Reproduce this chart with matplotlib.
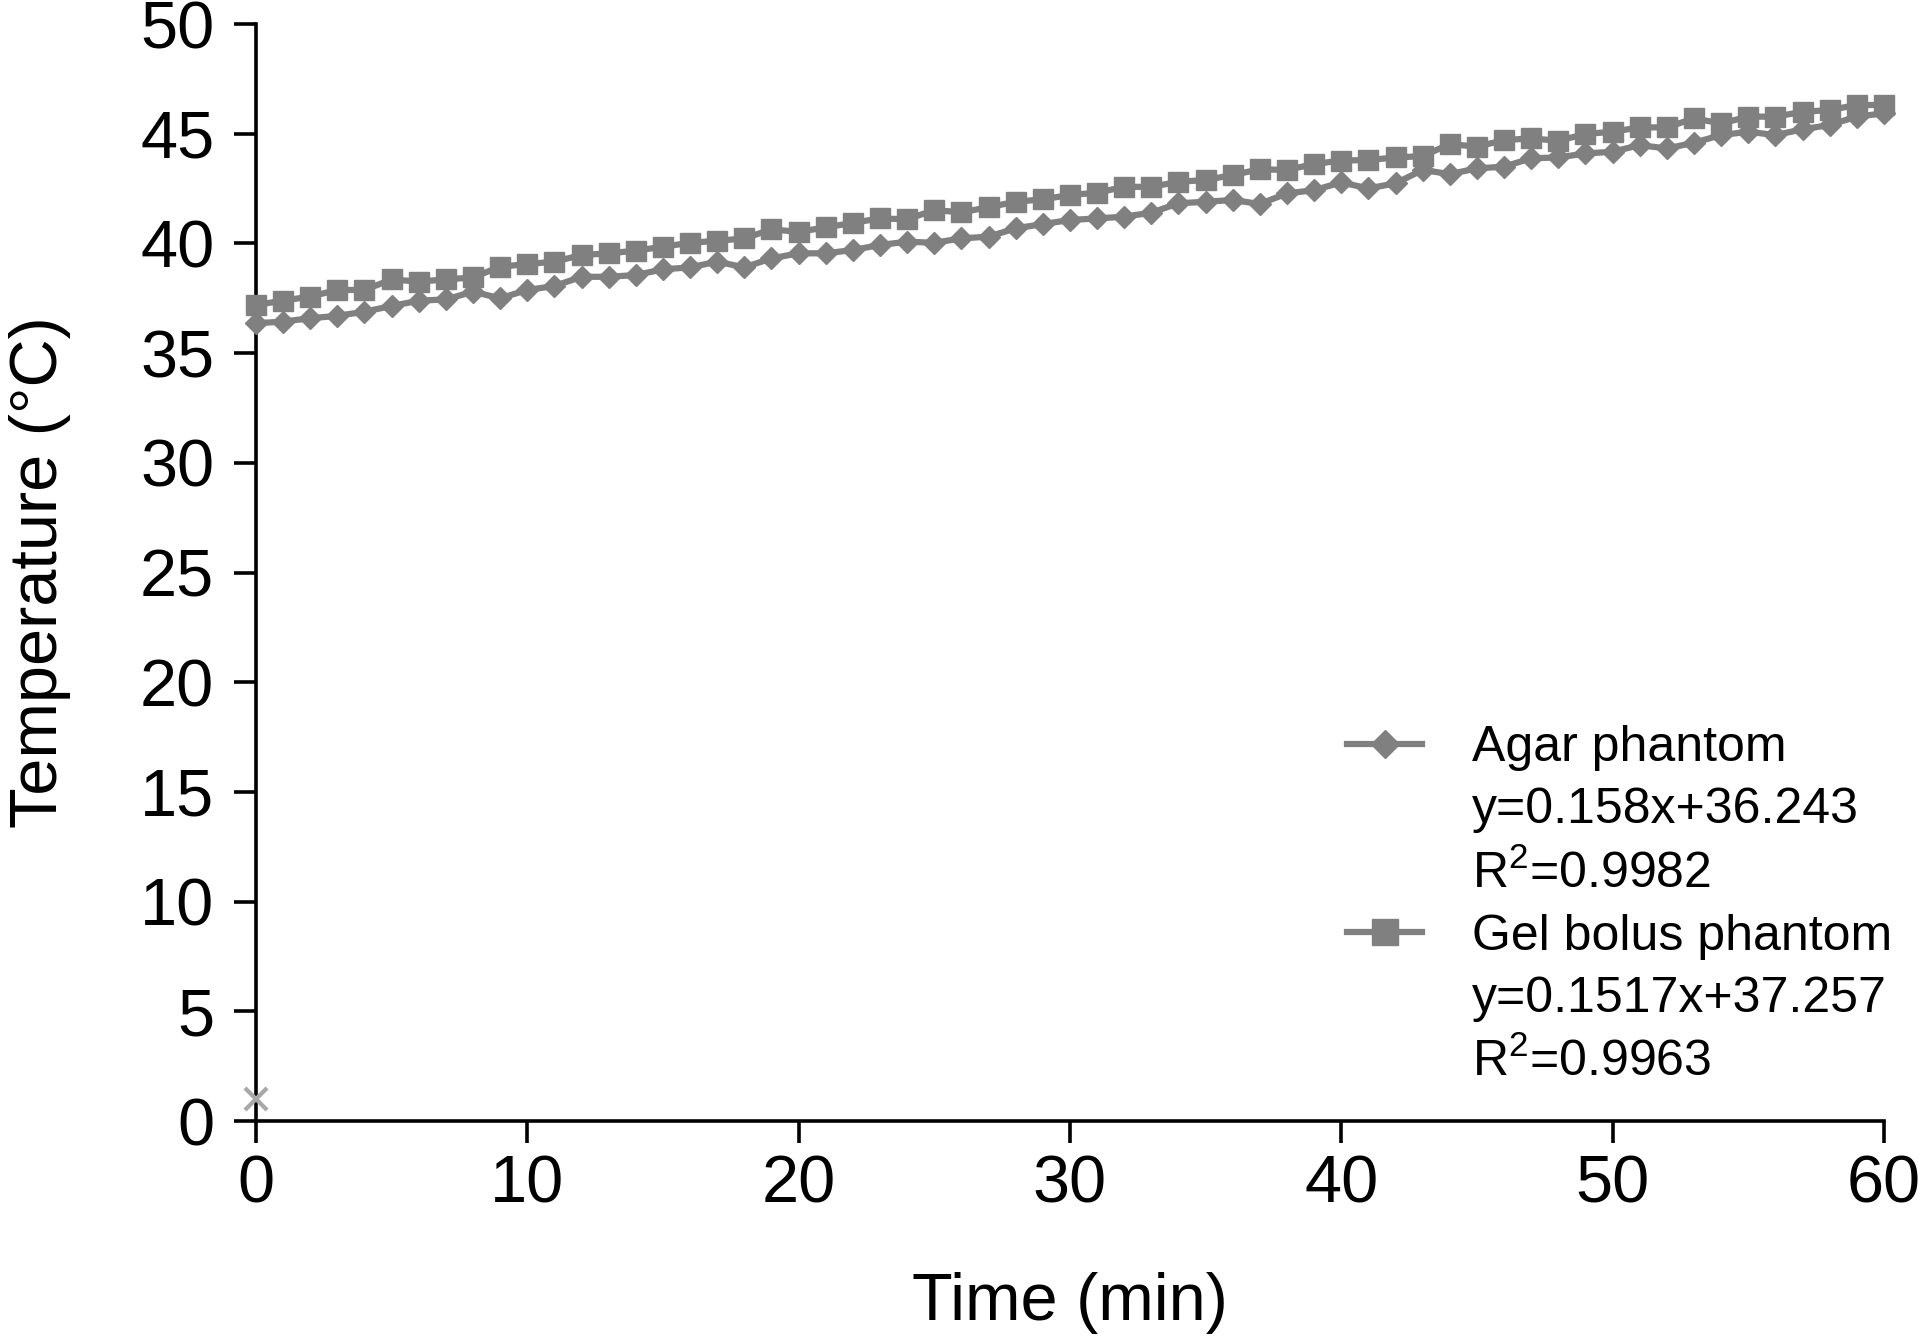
import matplotlib
matplotlib.use("Agg")
import matplotlib.pyplot as plt
from matplotlib.lines import Line2D

# --- fonts: Arial-like look ---
plt.rcParams['font.family'] = ['Liberation Sans', 'DejaVu Sans']
plt.rcParams['mathtext.fontset'] = 'custom'
plt.rcParams['mathtext.rm'] = 'Liberation Sans'
plt.rcParams['mathtext.it'] = 'Liberation Sans:italic'

# --- data (minutes, deg C) ---
time_min = list(range(61))

agar = [36.36, 36.44, 36.59, 36.70, 36.89, 37.15, 37.39, 37.45, 37.80, 37.50,
        37.88, 38.06, 38.48, 38.48, 38.56, 38.82, 38.91, 39.17, 38.91, 39.32,
        39.55, 39.55, 39.70, 39.93, 40.08, 40.03, 40.23, 40.31, 40.69, 40.88,
        41.07, 41.14, 41.22, 41.40, 41.83, 41.90, 41.98, 41.80, 42.28, 42.43,
        42.78, 42.51, 42.74, 43.35, 43.16, 43.42, 43.50, 43.88, 43.92, 44.10,
        44.18, 44.48, 44.33, 44.59, 44.94, 45.09, 44.94, 45.20, 45.40, 45.78,
        45.93]

gel = [37.20, 37.39, 37.58, 37.88, 37.88, 38.36, 38.26, 38.36, 38.45, 38.94,
       39.06, 39.17, 39.47, 39.55, 39.67, 39.85, 40.03, 40.12, 40.23, 40.64,
       40.53, 40.73, 40.94, 41.14, 41.10, 41.52, 41.42, 41.65, 41.90, 42.01,
       42.21, 42.31, 42.58, 42.58, 42.81, 42.89, 43.12, 43.38, 43.35, 43.62,
       43.78, 43.80, 43.92, 43.98, 44.53, 44.41, 44.71, 44.79, 44.68, 44.99,
       45.09, 45.29, 45.29, 45.70, 45.47, 45.78, 45.78, 46.00, 46.08, 46.31,
       46.31]

# stray empty-series point near the origin
extra_x = [0]
extra_y = [1]

agar_label = ["Agar phantom", "y=0.158x+36.243", "R$^2$=0.9982"]
gel_label = ["Gel bolus phantom", "y=0.1517x+37.257", "R$^2$=0.9963"]

GREY = "#808080"

fig = plt.figure(figsize=(19.2, 13.36), dpi=100)
ax = fig.add_axes([0.1333, 0.1609, 0.8479, 0.8211])

gel_line, = ax.plot(time_min, gel, color=GREY, lw=4.5, marker="s", ms=14,
                    mec=GREY, mfc=GREY, clip_on=False, zorder=3)
agar_line, = ax.plot(time_min, agar, color=GREY, lw=4.5, marker="D", ms=11,
                     mec=GREY, mfc=GREY, clip_on=False, zorder=4)
ax.plot(extra_x, extra_y, linestyle="none", marker="x", ms=16, mew=3,
        color="#a8a8a8", clip_on=False, zorder=5)

ax.set_xlim(0, 60)
ax.set_ylim(0, 50)
ax.set_xticks(range(0, 61, 10))
ax.set_yticks(range(0, 51, 5))

for s in ["top", "right"]:
    ax.spines[s].set_visible(False)
for s in ["left", "bottom"]:
    ax.spines[s].set_linewidth(2.6)

ax.tick_params(axis="both", direction="out", length=16, width=2.6,
               labelsize=48, colors="black")
ax.tick_params(axis="x", pad=8)
ax.tick_params(axis="y", pad=14)

ax.set_xlabel("Time (min)", fontsize=48, labelpad=40)
ax.set_ylabel("Temperature (°C)", fontsize=48, labelpad=50)

blank = Line2D([], [], linestyle="none")
handles = [agar_line, blank, blank, gel_line, blank, blank]
labels = agar_label + gel_label
ax.legend(handles, labels, loc="upper left",
          bbox_to_anchor=(0.7016, 0.457), bbox_transform=fig.transFigure,
          frameon=False, fontsize=36, borderpad=0, borderaxespad=0,
          handlelength=1.5, handletextpad=1.0, labelspacing=0.32,
          markerscale=1.3)

fig.savefig("out.png", dpi=100)
